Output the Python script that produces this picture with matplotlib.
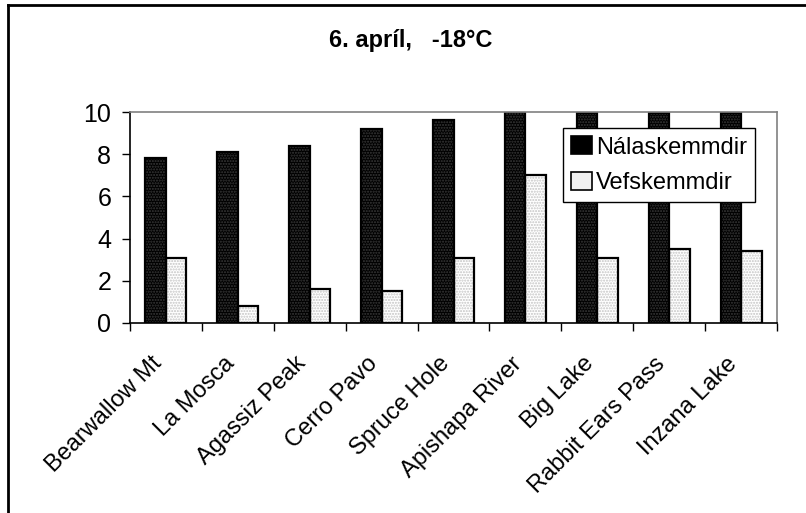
import matplotlib

matplotlib.use("Agg")
import matplotlib.pyplot as plt
import matplotlib.transforms as mtransforms
import numpy as np
from matplotlib.lines import Line2D

plt.rcParams["font.family"] = ["Liberation Sans", "DejaVu Sans"]

sites = ["Bearwallow Mt", "La Mosca", "Agassiz Peak", "Cerro Pavo", "Spruce Hole",
         "Apishapa River", "Big Lake", "Rabbit Ears Pass", "Inzana Lake"]
nalaskemmdir = [7.8, 8.1, 8.4, 9.2, 9.6, 10.0, 9.95, 9.95, 9.95]
vefskemmdir = [3.1, 0.8, 1.6, 1.5, 3.1, 7.0, 3.1, 3.5, 3.4]

W, H = 806, 513
fig = plt.figure(figsize=(W / 100, H / 100), dpi=100)
ax = fig.add_axes([130 / W, 1 - 323 / H, 647 / W, 211 / H])

x = np.arange(len(sites))
w = 0.285

# dotted fill first, then black outlines on top
ax.bar(x - w / 2, nalaskemmdir, w, color="black", hatch="......", edgecolor="#3a3a3a", lw=0)
ax.bar(x + w / 2, vefskemmdir, w, color="white", hatch="......", edgecolor="#c4c4c4", lw=0)
ax.bar(x - w / 2, nalaskemmdir, w, fill=False, edgecolor="black", lw=1.6)
ax.bar(x + w / 2, vefskemmdir, w, fill=False, edgecolor="black", lw=1.6)

ax.set_xlim(-0.5, len(sites) - 0.5)
ax.set_ylim(0, 10)
ax.set_yticks([0, 2, 4, 6, 8, 10])
ax.tick_params(axis="y", labelsize=18, length=5.5, width=1, pad=8)
ax.set_xticks(x)
ax.set_xticklabels(sites, rotation=45, ha="right", va="center",
                   rotation_mode="anchor", fontsize=17)
ax.tick_params(axis="x", length=0, pad=27)
ax.set_xticks(np.arange(len(sites) + 1) - 0.5, minor=True)
ax.tick_params(axis="x", which="minor", length=6, width=1)

shift = mtransforms.ScaledTranslation(-7 / 100, 0, fig.dpi_scale_trans)
for lbl in ax.get_xticklabels():
    lbl.set_transform(lbl.get_transform() + shift)

for s in ("top", "right"):
    ax.spines[s].set_color("#808080")
    ax.spines[s].set_linewidth(1.2)
for s in ("left", "bottom"):
    ax.spines[s].set_color("black")
    ax.spines[s].set_linewidth(1.2)

h1 = plt.Rectangle((0, 0), 1, 1, facecolor="black", edgecolor="black", lw=1.2)
h2 = plt.Rectangle((0, 0), 1, 1, facecolor="#f0f0f0", edgecolor="black", lw=1.2)
leg = ax.legend([h1, h2], ["Nálaskemmdir", "Vefskemmdir"], loc="upper left",
                bbox_to_anchor=(0.669, 0.924), borderaxespad=0, fontsize=17,
                handlelength=0.9, handleheight=0.8, handletextpad=0.15,
                fancybox=False, framealpha=1, borderpad=0.35, labelspacing=0.55)
leg.get_frame().set_edgecolor("black")
leg.get_frame().set_linewidth(1.0)

fig.text(411 / W, 1 - 40 / H, "6. apríl,   -18°C", ha="center", va="center",
         fontsize=17, fontweight="bold")

# outer chart border (top and left edges visible)
fig.add_artist(Line2D([8 / W, 1], [1 - 5 / H, 1 - 5 / H], color="black", lw=2))
fig.add_artist(Line2D([8 / W, 8 / W], [0, 1 - 5 / H], color="black", lw=2))

fig.savefig("out.png", dpi=100)
